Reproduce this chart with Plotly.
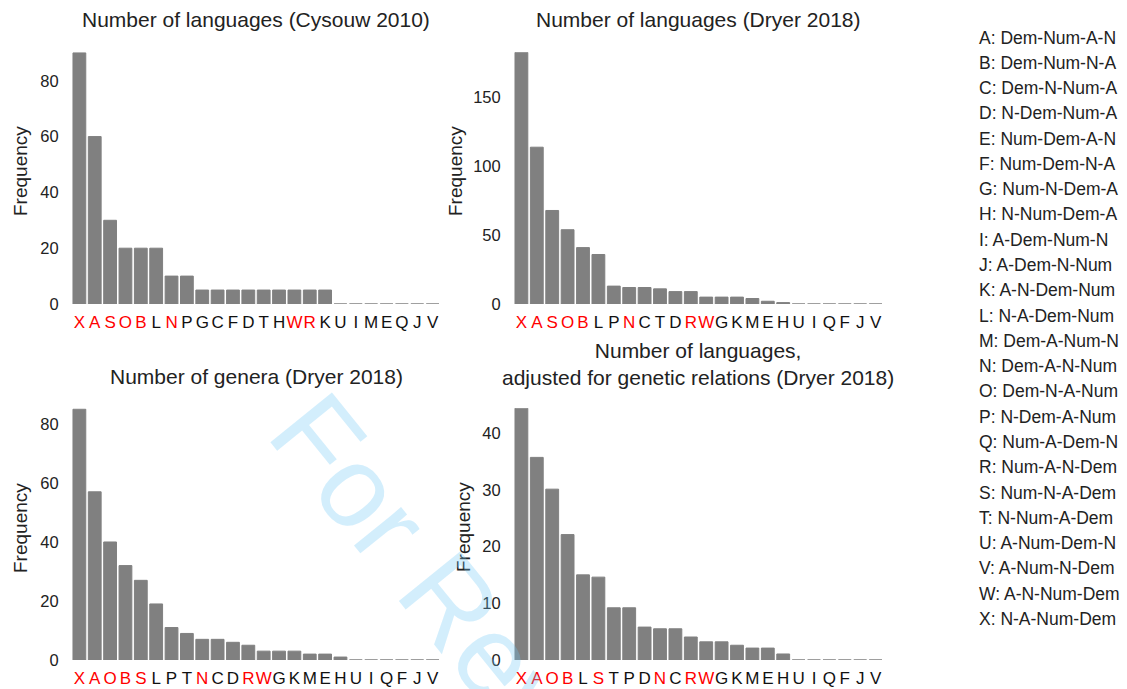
import plotly.graph_objects as go

# ---------------- data ----------------
order_cysouw = ["X","A","S","O","B","L","N","P","G","C","F","D","T","H","W","R","K","U","I","M","E","Q","J","V"]
freq_cysouw = [90,60,30,20,20,20,10,10,5,5,5,5,5,5,5,5,5,0,0,0,0,0,0,0]

order_dryer_lang = ["X","A","S","O","B","L","P","N","C","T","D","R","W","G","K","M","E","H","U","I","Q","F","J","V"]
freq_dryer_lang = [183,114,68,54,41,36,13,12,12,11,9,9,5,5,5,4,2,1,0,0,0,0,0,0]

order_dryer_gen = ["X","A","O","B","S","L","P","T","N","C","D","R","W","G","K","M","E","H","U","I","Q","F","J","V"]
freq_dryer_gen = [85,57,40,32,27,19,11,9,7,7,6,5,3,3,3,2,2,1,0,0,0,0,0,0]

order_dryer_adj = ["X","A","O","B","L","S","T","P","D","N","C","R","W","G","K","M","E","H","U","I","Q","F","J","V"]
freq_dryer_adj = [44.4,35.7,30.1,22.1,15.0,14.6,9.2,9.2,5.8,5.5,5.5,4.05,3.2,3.2,2.6,2.1,2.1,1.06,0,0,0,0,0,0]

red_letters = ["X","A","S","O","B","N","R","W"]

titles = ["Number of languages (Cysouw 2010)",
          "Number of languages (Dryer 2018)",
          "Number of genera (Dryer 2018)",
          "Number of languages,<br>adjusted for genetic relations (Dryer 2018)"]

legend_labels = [
    "A: Dem-Num-A-N", "B: Dem-Num-N-A", "C: Dem-N-Num-A", "D: N-Dem-Num-A",
    "E: Num-Dem-A-N", "F: Num-Dem-N-A", "G: Num-N-Dem-A", "H: N-Num-Dem-A",
    "I: A-Dem-Num-N", "J: A-Dem-N-Num", "K: A-N-Dem-Num", "L: N-A-Dem-Num",
    "M: Dem-A-Num-N", "N: Dem-A-N-Num", "O: Dem-N-A-Num", "P: N-Dem-A-Num",
    "Q: Num-A-Dem-N", "R: Num-A-N-Dem", "S: Num-N-A-Dem", "T: N-Num-A-Dem",
    "U: A-Num-Dem-N", "V: A-Num-N-Dem", "W: A-N-Num-Dem", "X: N-A-Num-Dem",
]

y_dticks = [20, 50, 20, 10]

# ---------------- layout helpers ----------------
W, H = 1127, 689          # target picture size
FIG_H = 698               # page height that ends up shown as 689 px
FONT = "Liberation Sans, Arial, Helvetica, sans-serif"
TXT = "#222222"
BAR = "#808080"

def px_x(p):
    return p / W

def px_y(p):
    return 1 - p / H

panels = [
    dict(order=order_cysouw, freq=freq_cysouw, xd=(71.7, 440.3), yd=(304, 52.3), ymax=90.2,
         title_xy=(256, 19), ytitle_xy=(20, 171)),
    dict(order=order_dryer_lang, freq=freq_dryer_lang, xd=(513.7, 883.3), yd=(304, 52.3), ymax=183.0,
         title_xy=(698, 19), ytitle_xy=(455, 171)),
    dict(order=order_dryer_gen, freq=freq_dryer_gen, xd=(71.7, 440.3), yd=(660, 408.3), ymax=85.3,
         title_xy=(256, 376), ytitle_xy=(20, 528)),
    dict(order=order_dryer_adj, freq=freq_dryer_adj, xd=(513.7, 883.3), yd=(660, 408.3), ymax=44.35,
         title_xy=(698, 364), ytitle_xy=(463, 527)),
]

fig = go.Figure()
annotations = []
layout_axes = {}

for i, p in enumerate(panels):
    n = i + 1
    xa = "x" if n == 1 else f"x{n}"
    ya = "y" if n == 1 else f"y{n}"
    fig.add_trace(go.Bar(
        x=p["order"], y=p["freq"], xaxis=xa, yaxis=ya,
        marker=dict(color=BAR, line=dict(color=BAR, width=1)),
        showlegend=False, hoverinfo="x+y",
    ))
    ticktext = [
        f"<span style='color:#ff0000'>{c}</span>" if c in red_letters else c
        for c in p["order"]
    ]
    layout_axes[f"xaxis{'' if n == 1 else n}"] = dict(
        domain=[px_x(p["xd"][0]), px_x(p["xd"][1])],
        anchor=ya, type="category", range=[-0.5, len(p["order"]) - 0.5],
        tickmode="array", tickvals=p["order"], ticktext=ticktext, tickangle=0,
        showgrid=False, zeroline=False, showline=False, ticks="",
        tickfont=dict(family=FONT, size=17, color="#111111"),
        ticklabelstandoff=6, fixedrange=True,
    )
    layout_axes[f"yaxis{'' if n == 1 else n}"] = dict(
        domain=[px_y(p["yd"][0]), px_y(p["yd"][1])],
        anchor=xa, range=[0, p["ymax"]], dtick=y_dticks[i], tick0=0,
        showgrid=False, zeroline=False, showline=False, ticks="",
        tickfont=dict(family=FONT, size=16.5, color=TXT),
        ticklabelstandoff=12, fixedrange=True,
    )
    annotations.append(dict(
        text=titles[i], x=px_x(p["title_xy"][0]), y=px_y(p["title_xy"][1]),
        xref="paper", yref="paper", xanchor="center", yanchor="middle",
        showarrow=False, font=dict(family=FONT, size=21, color=TXT),
    ))
    annotations.append(dict(
        text="Frequency", x=px_x(p["ytitle_xy"][0]), y=px_y(p["ytitle_xy"][1]),
        xref="paper", yref="paper", xanchor="center", yanchor="middle",
        textangle=-90, showarrow=False, font=dict(family=FONT, size=19, color=TXT),
    ))

# right-hand key
for k, lab in enumerate(legend_labels):
    annotations.append(dict(
        text=lab, x=px_x(977), y=px_y(37.5 + k * 25.28),
        xref="paper", yref="paper", xanchor="left", yanchor="middle",
        showarrow=False, font=dict(family=FONT, size=17.5, color=TXT),
    ))

# watermark
annotations.append(dict(
    text="For Review Only", x=px_x(563), y=px_y(740),
    xref="paper", yref="paper", xanchor="center", yanchor="middle",
    textangle=51, showarrow=False,
    font=dict(family=FONT, size=115, color="rgba(110,200,245,0.3)"),
))

fig.update_layout(
    width=W, height=FIG_H,
    margin=dict(l=0, r=0, t=0, b=0),
    paper_bgcolor="white", plot_bgcolor="white",
    bargap=0.167,
    annotations=annotations,
    **layout_axes,
)

fig.write_html(
    "out.html",
    config={"displayModeBar": False},
    post_script="document.documentElement.style.overflow='hidden';document.body.style.margin='0px';document.body.style.padding='0px';document.body.style.overflow='hidden';",
)
